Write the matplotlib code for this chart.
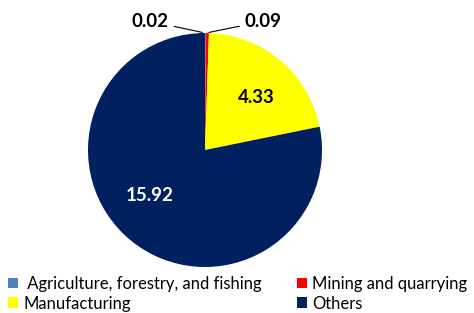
import numpy as np
import matplotlib
matplotlib.use('Agg')
import matplotlib.pyplot as plt
from matplotlib.patches import Patch

plt.rcParams['font.family'] = ['Lato', 'DejaVu Sans']

sectors = [' Agriculture, forestry, and fishing', 'Mining and quarrying', 'Manufacturing', 'Others']
values = [0.02, 0.09, 4.33, 15.92]
labels = ['0.02', '0.09', '4.33', '15.92']
colors = ['#4F81BD', '#FF0000', '#FFFF00', '#002060']

fig = plt.figure(figsize=(4.74, 3.13), dpi=100)
cx, cy, r = 205, 150, 117
ax = fig.add_axes([(cx - r) / 474, (313 - cy - r) / 313, 2 * r / 474, 2 * r / 313])
wedges, _ = ax.pie(values, colors=colors, startangle=90, counterclock=False,
                   wedgeprops=dict(linewidth=0))
ax.set_xlim(-1, 1)
ax.set_ylim(-1, 1)
ax.set_aspect('equal')
ax.axis('off')

# small slices: labels outside with leader lines
ax.annotate(labels[0], xy=(0, 1.0), xytext=(-0.31, 1.10), ha='right', va='center',
            fontsize=13.5, fontweight='bold', annotation_clip=False,
            arrowprops=dict(arrowstyle='-', color='black', lw=0.8))
ax.annotate(labels[1], xy=(0.01, 1.0), xytext=(0.34, 1.10), ha='left', va='center',
            fontsize=13.5, fontweight='bold', annotation_clip=False,
            arrowprops=dict(arrowstyle='-', color='black', lw=0.8))
# big slices: labels inside
ax.text(0.44, 0.45, labels[2], ha='center', va='center', fontsize=13.5, fontweight='bold', color='black')
ax.text(-0.47, -0.39, labels[3], ha='center', va='center', fontsize=13.5, fontweight='bold', color='white')

order = [0, 2, 1, 3]
handles = [Patch(facecolor=colors[i], edgecolor='none') for i in order]
names = [sectors[i] for i in order]
fig.legend(handles, names, loc='lower left', bbox_to_anchor=(0.0, -0.022), ncol=2, frameon=False,
           fontsize=12, handlelength=0.6, handleheight=0.6, handletextpad=0.3,
           columnspacing=2.1, labelspacing=0.22, borderaxespad=0.1)

fig.savefig('out.png', dpi=100)
